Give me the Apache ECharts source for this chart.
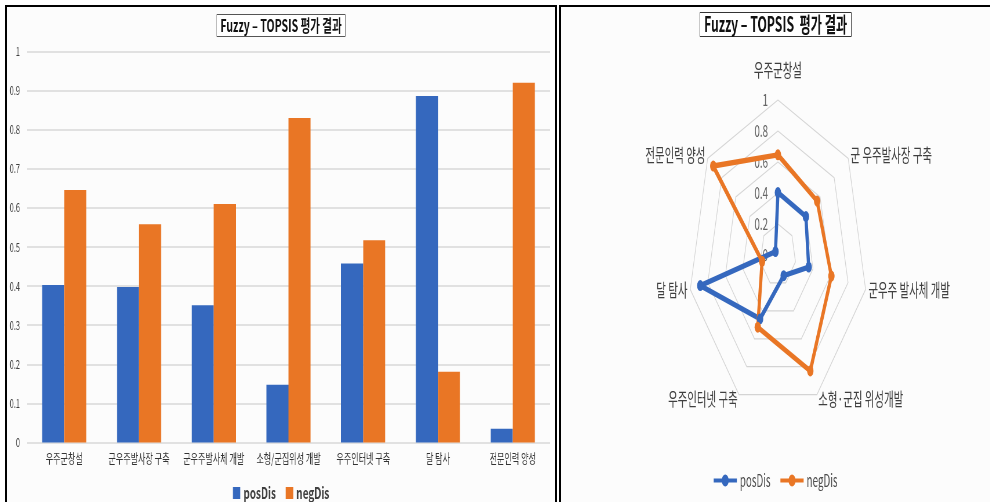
<!DOCTYPE html>
<html>
<head>
<meta charset="utf-8">
<script src="https://cdn.jsdelivr.net/npm/echarts@6/dist/echarts.min.js"></script>
<style>
  html, body { margin: 0; padding: 0; background: #fff; }
  body { width: 990px; height: 502px; position: relative; overflow: hidden; }
  .panel { position: absolute; top: 5px; height: 520px; background: #fcfcfc; border: 2px solid #000; overflow: hidden; }
  #left-panel { left: 5px; width: 548px; }
  #right-panel { left: 559px; width: 460px; border-right: none; }
  .chart { position: absolute; left: 0; top: 0; height: 495px; transform-origin: 0 0; }
</style>
</head>
<body>
<div class="panel" id="left-panel"><div class="chart" id="bar-chart"></div></div>
<div class="panel" id="right-panel"><div class="chart" id="radar-chart"></div></div>
<script>
// 평가 항목 (막대 그래프 / 방사형 그래프 라벨)
var categories = ['우주군창설', '군우주발사장 구축', '군우주발사체 개발', '소형/군집위성 개발', '우주인터넷 구축', '달 탐사', '전문인력 양성'];
var radarNames = ['우주군창설', '군 우주발사장 구축', '군우주 발사체 개발', '소형·군집 위성개발', '우주인터넷 구축', '달 탐사', '전문인력 양성'];
// Fuzzy-TOPSIS 거리 값
var posDis = [0.403, 0.398, 0.351, 0.148, 0.458, 0.886, 0.035];
var negDis = [0.646, 0.558, 0.610, 0.830, 0.517, 0.181, 0.920];
var seriesNames = ['posDis', 'negDis'];

var FONT = '"Noto Sans CJK KR", "Noto Sans", sans-serif';
var BLUE = '#3568be', ORANGE = '#e97625';
// 원본 그림이 가로로 눌려 있어서 차트를 넓게 그린 뒤 scaleX로 줄임
var LEFT_SX = 0.62, RIGHT_SX = 0.58;

var barEl = document.getElementById('bar-chart');
barEl.style.width = Math.round(548 / LEFT_SX) + 'px';
barEl.style.transform = 'scaleX(' + LEFT_SX + ')';
var radarEl = document.getElementById('radar-chart');
radarEl.style.width = Math.round(429 / RIGHT_SX) + 'px';
radarEl.style.transform = 'scaleX(' + RIGHT_SX + ')';

var barChart = echarts.init(barEl);
barChart.setOption({
    animation: false,
    textStyle: { fontFamily: FONT },
    title: {
        text: 'Fuzzy – TOPSIS 평가 결과',
        left: 'center',
        top: 7,
        padding: [3, 6],
        borderColor: '#555',
        borderWidth: 1,
        backgroundColor: '#fff',
        textStyle: { fontFamily: FONT, fontSize: 17, fontWeight: 'bold', color: '#111' }
    },
    legend: {
        data: seriesNames,
        top: 473,
        left: 'center',
        icon: 'rect',
        itemWidth: 12,
        itemHeight: 12,
        itemGap: 16,
        textStyle: { fontFamily: FONT, fontSize: 16, fontWeight: 'bold', color: '#404040' }
    },
    grid: { left: 32, right: 8, top: 44.5, bottom: 59.5 },
    xAxis: {
        type: 'category',
        data: categories,
        axisLine: { show: false },
        axisTick: { show: false },
        axisLabel: { fontFamily: FONT, fontSize: 13, color: '#333', margin: 9, interval: 0 }
    },
    yAxis: {
        type: 'value',
        min: 0,
        max: 1,
        interval: 0.1,
        axisLabel: { fontFamily: FONT, fontSize: 12, color: '#404040', margin: 11 },
        splitLine: { lineStyle: { color: '#d9d9d9', width: 1.5 } }
    },
    series: [{
        name: seriesNames[0],
        type: 'bar',
        data: posDis,
        barGap: '0%',
        barCategoryGap: '41%',
        itemStyle: { color: BLUE }
    }, {
        name: seriesNames[1],
        type: 'bar',
        data: negDis,
        itemStyle: { color: ORANGE }
    }]
});

// echarts 레이더는 반시계 방향이라 순서를 뒤집어 시계 방향으로 맞춤
var order = [0, 6, 5, 4, 3, 2, 1];
var indicators = order.map(function (i, k) {
    var ind = { name: radarNames[i], min: 0, max: 1 };
    if (k === 0) ind.axisLabel = { show: true };
    return ind;
});

var radarChart = echarts.init(radarEl);
radarChart.setOption({
    animation: false,
    textStyle: { fontFamily: FONT },
    title: {
        text: 'Fuzzy – TOPSIS  평가 결과',
        left: 'center',
        top: 5,
        padding: [2, 7],
        borderColor: '#333',
        borderWidth: 1,
        backgroundColor: '#fff',
        textStyle: { fontFamily: FONT, fontSize: 21, fontWeight: 'bold', color: '#111' }
    },
    legend: {
        data: seriesNames,
        top: 460,
        left: 'center',
        // 선 + 동그라미 모양 범례
        icon: 'path://M0,5H15V9H0Z M25,5H40V9H25Z M14,7A6,6 0 1,1 26,7A6,6 0 1,1 14,7Z',
        itemWidth: 40,
        itemHeight: 12,
        itemGap: 17,
        textStyle: { fontFamily: FONT, fontSize: 17, color: '#4d4d4d' }
    },
    radar: {
        center: [374, 248],
        radius: 155,
        startAngle: 90,
        splitNumber: 5,
        shape: 'polygon',
        nameGap: 5,
        indicator: indicators,
        axisName: {
            fontFamily: FONT,
            fontSize: 18,
            lineHeight: 12,
            color: '#3f3f3f',
            formatter: function (name) {
                return name === radarNames[0] ? name + '\n' : name;
            }
        },
        axisLine: { show: false },
        axisTick: { show: false },
        axisLabel: { show: false, fontFamily: FONT, fontSize: 17, color: '#666', margin: 17 },
        splitLine: { lineStyle: { color: '#d4d4d4', width: 1.2 } },
        splitArea: { show: false }
    },
    series: [{
        type: 'radar',
        symbol: 'circle',
        symbolSize: 11,
        data: [{
            name: seriesNames[0],
            value: order.map(function (i) { return posDis[i]; }),
            lineStyle: { color: BLUE, width: 5.5 },
            itemStyle: { color: BLUE }
        }, {
            name: seriesNames[1],
            value: order.map(function (i) { return negDis[i]; }),
            lineStyle: { color: ORANGE, width: 5.5 },
            itemStyle: { color: ORANGE }
        }]
    }]
});
</script>
</body>
</html>
